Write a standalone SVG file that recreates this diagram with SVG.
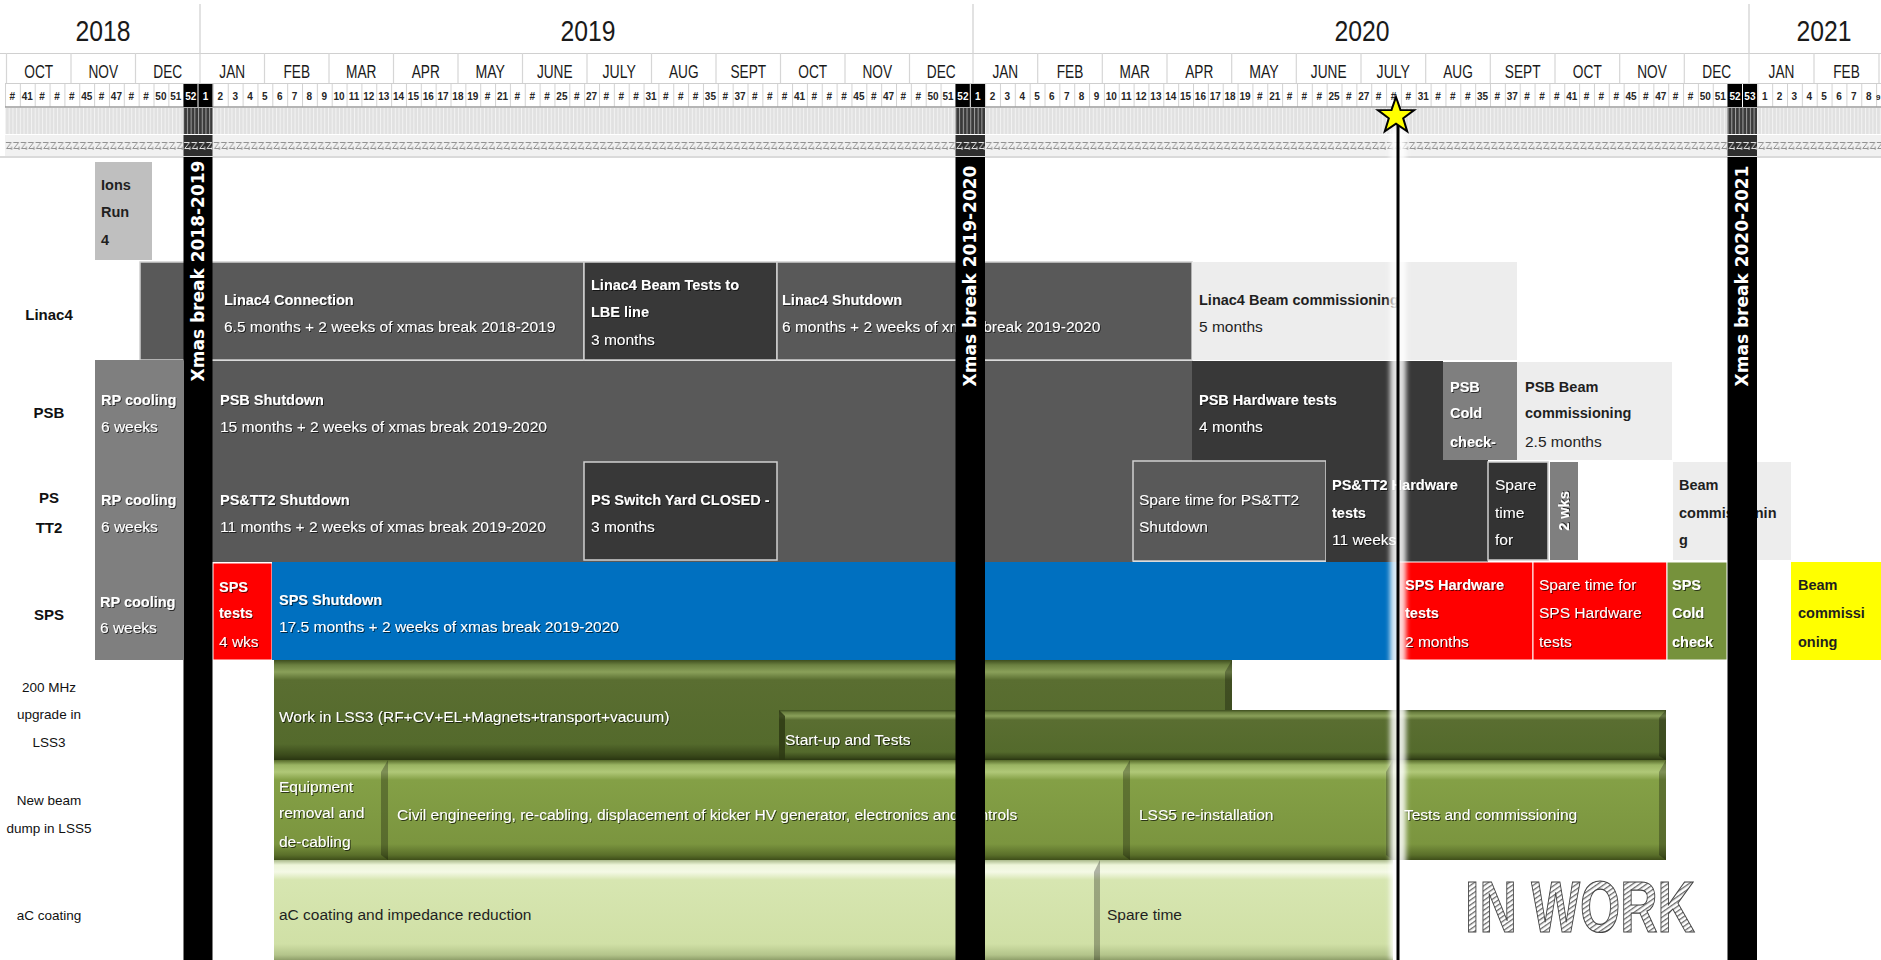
<svg xmlns="http://www.w3.org/2000/svg" width="1881" height="960" viewBox="0 0 1881 960">
<defs>
<style>
text{font-family:"Liberation Sans",Arial,sans-serif}
.yr{font-size:29px;fill:#1a1a1a;text-anchor:middle}
.mo{font-size:19px;fill:#1a1a1a;text-anchor:middle}
.wk{font-size:10px;font-weight:bold;fill:#262626;text-anchor:middle}
.wkw{font-size:10px;font-weight:bold;fill:#fff;text-anchor:middle}
.lb{font-size:15px;font-weight:bold;fill:#111;text-anchor:middle}
.lr{font-size:13.5px;fill:#111;text-anchor:middle}
.b{font-size:14.5px;font-weight:bold}
.r{font-size:15.5px}
.w{fill:#fff;filter:url(#sh)}
.k{fill:#1f1f1f}
.xm{font-family:"DejaVu Sans",sans-serif;font-size:17px;font-weight:bold;fill:#fff;text-anchor:middle;dominant-baseline:central}
.g1{fill:#595959}
.g2{fill:#383838}
.g3{fill:#7f7f7f}
.g4{fill:#ededed}
.bd{stroke:#d0d0d0;stroke-width:1.5}
.red{fill:#ff0000;stroke:#fff;stroke-width:1}
.edgeR{fill:#000;opacity:.28}
</style>
<filter id="sh" x="-5%" y="-30%" width="110%" height="160%"><feDropShadow dx="1" dy="1" stdDeviation="0.7" flood-color="#000" flood-opacity="0.65"/></filter>
<filter id="blur" x="-100%" y="-5%" width="300%" height="110%"><feGaussianBlur stdDeviation="2.5"/></filter>
<pattern id="wkgrid" x="5" y="0" width="14.85" height="24" patternUnits="userSpaceOnUse"><rect width="14.85" height="24" fill="#fff"/><rect x="0" y="0" width="1" height="24" fill="#d2d2d2"/></pattern>
<pattern id="stripes" x="5" y="0" width="3.7125" height="10" patternUnits="userSpaceOnUse"><rect width="3.7125" height="10" fill="#e1e1e1"/><rect width="1" height="10" fill="#f3f3f3"/></pattern>
<pattern id="stripesD" x="5" y="0" width="3.7125" height="10" patternUnits="userSpaceOnUse"><rect width="3.7125" height="10" fill="#3a3a3a"/><rect width="1" height="10" fill="#a0a0a0"/></pattern>
<pattern id="squig" x="5" y="135" width="7.425" height="22" patternUnits="userSpaceOnUse"><rect width="7.425" height="22" fill="#f1f1f1"/><path d="M0.8 7.5H6.2L1.6 13.5H6.6M6.6 11.5V15" stroke="#8a8a8a" stroke-width="0.9" fill="none"/></pattern>
<pattern id="squigD" x="5" y="135" width="7.425" height="22" patternUnits="userSpaceOnUse"><rect width="7.425" height="22" fill="#2e2e2e"/><path d="M0.8 7.5H6.2L1.6 13.5H6.6M6.6 11.5V15" stroke="#f0f0f0" stroke-width="0.9" fill="none"/></pattern>
<pattern id="hatch" width="4" height="4" patternUnits="userSpaceOnUse" patternTransform="rotate(55)"><rect width="4" height="4" fill="#fff"/><rect width="1.3" height="4" fill="#6a6a6a"/></pattern>
<linearGradient id="gDark" x1="0" y1="0" x2="0" y2="1">
<stop offset="0" stop-color="#3e4e1f"/><stop offset="0.05" stop-color="#6b8040"/><stop offset="0.12" stop-color="#8aa05a"/><stop offset="0.2" stop-color="#5a6e31"/><stop offset="0.84" stop-color="#546a2c"/><stop offset="0.95" stop-color="#3a4a1b"/><stop offset="1" stop-color="#2a3611"/>
</linearGradient>
<linearGradient id="gMid" x1="0" y1="0" x2="0" y2="1">
<stop offset="0" stop-color="#55692a"/><stop offset="0.05" stop-color="#9ab463"/><stop offset="0.12" stop-color="#b0c878"/><stop offset="0.2" stop-color="#84a046"/><stop offset="0.84" stop-color="#7b953f"/><stop offset="0.95" stop-color="#5a6f2a"/><stop offset="1" stop-color="#3e4e19"/>
</linearGradient>
<linearGradient id="gLight" x1="0" y1="0" x2="0" y2="1">
<stop offset="0" stop-color="#a9b98a"/><stop offset="0.05" stop-color="#eef6da"/><stop offset="0.12" stop-color="#f4f9e6"/><stop offset="0.2" stop-color="#d7e6b1"/><stop offset="0.84" stop-color="#d0e0a6"/><stop offset="0.95" stop-color="#b3c48a"/><stop offset="1" stop-color="#8f9f6a"/>
</linearGradient>
</defs>
<rect width="1881" height="960" fill="#fff"/>

<g id="header">
<g id="years">
<path d="M200 4V53M973 4V53M1749 4V53" stroke="#cfcfcf" stroke-width="1.2"/>
<text class="yr" x="103" y="41" textLength="55" lengthAdjust="spacingAndGlyphs">2018</text>
<text class="yr" x="588" y="41" textLength="55" lengthAdjust="spacingAndGlyphs">2019</text>
<text class="yr" x="1362" y="41" textLength="55" lengthAdjust="spacingAndGlyphs">2020</text>
<text class="yr" x="1824" y="41" textLength="55" lengthAdjust="spacingAndGlyphs">2021</text>
</g>
<g id="months">
<path d="M0 53.5H1881" stroke="#d0d0d0" stroke-width="1.2"/>
<path d="M6.5 53V83M71 53V83M135.5 53V83M200 53V83M264.5 53V83M329 53V83M393.5 53V83M458 53V83M522.5 53V83M587 53V83M651.5 53V83M716 53V83M780.5 53V83M845 53V83M909.5 53V83M973 53V83M1037.7 53V83M1102.3 53V83M1167 53V83M1231.7 53V83M1296.3 53V83M1361 53V83M1425.7 53V83M1490.3 53V83M1555 53V83M1619.7 53V83M1684.3 53V83M1749 53V83M1814 53V83M1879 53V83" stroke="#d6d6d6" stroke-width="1.2"/>
<text class="mo" x="38.75" y="78" textLength="28.9" lengthAdjust="spacingAndGlyphs">OCT</text>
<text class="mo" x="103.25" y="78" textLength="29.6" lengthAdjust="spacingAndGlyphs">NOV</text>
<text class="mo" x="167.75" y="78" textLength="28.9" lengthAdjust="spacingAndGlyphs">DEC</text>
<text class="mo" x="232.25" y="78" textLength="25.8" lengthAdjust="spacingAndGlyphs">JAN</text>
<text class="mo" x="296.75" y="78" textLength="26.6" lengthAdjust="spacingAndGlyphs">FEB</text>
<text class="mo" x="361.25" y="78" textLength="30.4" lengthAdjust="spacingAndGlyphs">MAR</text>
<text class="mo" x="425.75" y="78" textLength="28.1" lengthAdjust="spacingAndGlyphs">APR</text>
<text class="mo" x="490.25" y="78" textLength="29.6" lengthAdjust="spacingAndGlyphs">MAY</text>
<text class="mo" x="554.75" y="78" textLength="35.7" lengthAdjust="spacingAndGlyphs">JUNE</text>
<text class="mo" x="619.25" y="78" textLength="33.4" lengthAdjust="spacingAndGlyphs">JULY</text>
<text class="mo" x="683.75" y="78" textLength="29.6" lengthAdjust="spacingAndGlyphs">AUG</text>
<text class="mo" x="748.25" y="78" textLength="35.7" lengthAdjust="spacingAndGlyphs">SEPT</text>
<text class="mo" x="812.75" y="78" textLength="28.9" lengthAdjust="spacingAndGlyphs">OCT</text>
<text class="mo" x="877.25" y="78" textLength="29.6" lengthAdjust="spacingAndGlyphs">NOV</text>
<text class="mo" x="941.25" y="78" textLength="28.9" lengthAdjust="spacingAndGlyphs">DEC</text>
<text class="mo" x="1005.3" y="78" textLength="25.8" lengthAdjust="spacingAndGlyphs">JAN</text>
<text class="mo" x="1070" y="78" textLength="26.6" lengthAdjust="spacingAndGlyphs">FEB</text>
<text class="mo" x="1134.7" y="78" textLength="30.4" lengthAdjust="spacingAndGlyphs">MAR</text>
<text class="mo" x="1199.3" y="78" textLength="28.1" lengthAdjust="spacingAndGlyphs">APR</text>
<text class="mo" x="1264" y="78" textLength="29.6" lengthAdjust="spacingAndGlyphs">MAY</text>
<text class="mo" x="1328.7" y="78" textLength="35.7" lengthAdjust="spacingAndGlyphs">JUNE</text>
<text class="mo" x="1393.3" y="78" textLength="33.4" lengthAdjust="spacingAndGlyphs">JULY</text>
<text class="mo" x="1458" y="78" textLength="29.6" lengthAdjust="spacingAndGlyphs">AUG</text>
<text class="mo" x="1522.7" y="78" textLength="35.7" lengthAdjust="spacingAndGlyphs">SEPT</text>
<text class="mo" x="1587.3" y="78" textLength="28.9" lengthAdjust="spacingAndGlyphs">OCT</text>
<text class="mo" x="1652" y="78" textLength="29.6" lengthAdjust="spacingAndGlyphs">NOV</text>
<text class="mo" x="1716.7" y="78" textLength="28.9" lengthAdjust="spacingAndGlyphs">DEC</text>
<text class="mo" x="1781.5" y="78" textLength="25.8" lengthAdjust="spacingAndGlyphs">JAN</text>
<text class="mo" x="1846.5" y="78" textLength="26.6" lengthAdjust="spacingAndGlyphs">FEB</text>
</g>
<g id="weeks">
<rect x="5" y="83" width="1876" height="24" fill="url(#wkgrid)"/>
<path d="M5 83.5H1881" stroke="#cfcfcf" stroke-width="1"/>
<path d="M5 107H1881" stroke="#9c9c9c" stroke-width="1.5"/>
<rect x="5" y="108" width="1876" height="26" fill="url(#stripes)"/>
<rect x="5" y="134" width="1876" height="1.2" fill="#fff"/>
<rect x="5" y="135" width="1876" height="21" fill="url(#squig)"/>
<rect x="0" y="156" width="1881" height="2" fill="#dadada"/>
<text class="wk" y="100"><tspan x="12.4">#</tspan><tspan x="27.3">41</tspan><tspan x="42.1">#</tspan><tspan x="57">#</tspan><tspan x="71.8">#</tspan><tspan x="86.7">45</tspan><tspan x="101.5">#</tspan><tspan x="116.4">47</tspan><tspan x="131.2">#</tspan><tspan x="146.1">#</tspan><tspan x="160.9">50</tspan><tspan x="175.8">51</tspan><tspan x="220.3">2</tspan><tspan x="235.2">3</tspan><tspan x="250">4</tspan><tspan x="264.9">5</tspan><tspan x="279.7">6</tspan><tspan x="294.6">7</tspan><tspan x="309.4">8</tspan><tspan x="324.3">9</tspan><tspan x="339.1">10</tspan><tspan x="354">11</tspan><tspan x="368.8">12</tspan><tspan x="383.7">13</tspan><tspan x="398.5">14</tspan><tspan x="413.4">15</tspan><tspan x="428.2">16</tspan><tspan x="443.1">17</tspan><tspan x="457.9">18</tspan><tspan x="472.8">19</tspan><tspan x="487.6">#</tspan><tspan x="502.5">21</tspan><tspan x="517.3">#</tspan><tspan x="532.2">#</tspan><tspan x="547">#</tspan><tspan x="561.9">25</tspan><tspan x="576.7">#</tspan><tspan x="591.6">27</tspan><tspan x="606.4">#</tspan><tspan x="621.3">#</tspan><tspan x="636.1">#</tspan><tspan x="651">31</tspan><tspan x="665.8">#</tspan><tspan x="680.7">#</tspan><tspan x="695.5">#</tspan><tspan x="710.4">35</tspan><tspan x="725.2">#</tspan><tspan x="740.1">37</tspan><tspan x="754.9">#</tspan><tspan x="769.8">#</tspan><tspan x="784.6">#</tspan><tspan x="799.5">41</tspan><tspan x="814.3">#</tspan><tspan x="829.2">#</tspan><tspan x="844">#</tspan><tspan x="858.9">45</tspan><tspan x="873.7">#</tspan><tspan x="888.6">47</tspan><tspan x="903.4">#</tspan><tspan x="918.3">#</tspan><tspan x="933.1">50</tspan><tspan x="948">51</tspan><tspan x="992.5">2</tspan><tspan x="1007.4">3</tspan><tspan x="1022.2">4</tspan><tspan x="1037.1">5</tspan><tspan x="1051.9">6</tspan><tspan x="1066.8">7</tspan><tspan x="1081.6">8</tspan><tspan x="1096.5">9</tspan><tspan x="1111.3">10</tspan><tspan x="1126.2">11</tspan><tspan x="1141">12</tspan><tspan x="1155.9">13</tspan><tspan x="1170.7">14</tspan><tspan x="1185.6">15</tspan><tspan x="1200.4">16</tspan><tspan x="1215.3">17</tspan><tspan x="1230.1">18</tspan><tspan x="1245">19</tspan><tspan x="1259.8">#</tspan><tspan x="1274.7">21</tspan><tspan x="1289.5">#</tspan><tspan x="1304.4">#</tspan><tspan x="1319.2">#</tspan><tspan x="1334.1">25</tspan><tspan x="1348.9">#</tspan><tspan x="1363.8">27</tspan><tspan x="1378.6">#</tspan><tspan x="1393.5">#</tspan><tspan x="1408.3">#</tspan><tspan x="1423.2">31</tspan><tspan x="1438">#</tspan><tspan x="1452.9">#</tspan><tspan x="1467.7">#</tspan><tspan x="1482.6">35</tspan><tspan x="1497.4">#</tspan><tspan x="1512.3">37</tspan><tspan x="1527.1">#</tspan><tspan x="1542">#</tspan><tspan x="1556.8">#</tspan><tspan x="1571.7">41</tspan><tspan x="1586.5">#</tspan><tspan x="1601.4">#</tspan><tspan x="1616.2">#</tspan><tspan x="1631.1">45</tspan><tspan x="1645.9">#</tspan><tspan x="1660.8">47</tspan><tspan x="1675.6">#</tspan><tspan x="1690.5">#</tspan><tspan x="1705.3">50</tspan><tspan x="1720.2">51</tspan><tspan x="1764.7">1</tspan><tspan x="1779.6">2</tspan><tspan x="1794.4">3</tspan><tspan x="1809.3">4</tspan><tspan x="1824.1">5</tspan><tspan x="1839">6</tspan><tspan x="1853.8">7</tspan><tspan x="1868.7">8</tspan><tspan x="1878.2" font-size="8">9</tspan></text>
</g>
<g id="break-columns">
<rect x="183.5" y="84" width="29" height="23" fill="#000"/>
<rect x="955.5" y="84" width="29.5" height="23" fill="#000"/>
<rect x="1727.5" y="84" width="29.5" height="23" fill="#000"/>
<path d="M198 84V107M970.3 84V107M1742.5 84V107" stroke="#fff" stroke-width="1"/>
<text class="wkw" y="100"><tspan x="190.8">52</tspan><tspan x="205.6">1</tspan><tspan x="962.9">52</tspan><tspan x="977.7">1</tspan><tspan x="1735">52</tspan><tspan x="1749.9">53</tspan></text>
<rect x="183.5" y="108" width="29" height="26" fill="url(#stripesD)"/>
<rect x="955.5" y="108" width="29.5" height="26" fill="url(#stripesD)"/>
<rect x="1727.5" y="108" width="29.5" height="26" fill="url(#stripesD)"/>
<rect x="183.5" y="135" width="29" height="21" fill="url(#squigD)"/>
<rect x="955.5" y="135" width="29.5" height="21" fill="url(#squigD)"/>
<rect x="1727.5" y="135" width="29.5" height="21" fill="url(#squigD)"/>
</g>
</g>

<g id="row-labels">
<text class="lb" x="49" y="320">Linac4</text>
<text class="lb" x="49" y="418">PSB</text>
<text class="lb" x="49" y="503">PS</text>
<text class="lb" x="49" y="533">TT2</text>
<text class="lb" x="49" y="620">SPS</text>
<text class="lr" x="49" y="692">200 MHz</text>
<text class="lr" x="49" y="719">upgrade in</text>
<text class="lr" x="49" y="747">LSS3</text>
<text class="lr" x="49" y="805">New beam</text>
<text class="lr" x="49" y="833">dump in LSS5</text>
<text class="lr" x="49" y="920">aC coating</text>
</g>

<g id="ions-run">
<rect x="95" y="162" width="57" height="98" fill="#bfbfbf"/>
<text class="b k" x="101" y="190">Ions</text>
<text class="b k" x="101" y="217">Run</text>
<text class="b k" x="101" y="245">4</text>
</g>

<g id="linac4-connection">
<rect x="140" y="262" width="444" height="98" class="g1 bd"/>
<text class="b w" x="224" y="305">Linac4 Connection</text>
<text class="r w" x="224" y="332">6.5 months + 2 weeks of xmas break 2018-2019</text>
</g>
<g id="linac4-beam-tests">
<rect x="584" y="262" width="193" height="98" class="g2 bd"/>
<text class="b w" x="591" y="290">Linac4 Beam Tests to</text>
<text class="b w" x="591" y="317">LBE line</text>
<text class="r w" x="591" y="345">3 months</text>
</g>
<g id="linac4-shutdown">
<rect x="777" y="262" width="415" height="98" class="g1 bd"/>
<text class="b w" x="782" y="305">Linac4 Shutdown</text>
<text class="r w" x="782" y="332">6 months + 2 weeks of xmas break 2019-2020</text>
</g>
<g id="linac4-beam-commissioning">
<rect x="1192" y="262" width="325" height="98" class="g4"/>
<text class="b k" x="1199" y="305">Linac4 Beam commissioning</text>
<text class="r k" x="1199" y="332">5 months</text>
</g>

<g id="psb-rp-cooling">
<rect x="95" y="360" width="88" height="100" class="g3"/>
<text class="b w" x="101" y="405">RP cooling</text>
<text class="r w" x="101" y="432">6 weeks</text>
</g>
<g id="psb-shutdown">
<rect x="212" y="361" width="980" height="100" class="g1"/>
<text class="b w" x="220" y="405">PSB Shutdown</text>
<text class="r w" x="220" y="432">15 months + 2 weeks of xmas break 2019-2020</text>
</g>
<g id="psb-hardware-tests">
<rect x="1192" y="361" width="251" height="100" class="g2"/>
<text class="b w" x="1199" y="405">PSB Hardware tests</text>
<text class="r w" x="1199" y="432">4 months</text>
</g>
<g id="psb-cold-check">
<rect x="1443" y="362" width="74" height="98" class="g3"/>
<text class="b w" x="1450" y="392">PSB</text>
<text class="b w" x="1450" y="418">Cold</text>
<text class="b w" x="1450" y="447">check-</text>
</g>
<g id="psb-beam-commissioning">
<rect x="1517" y="362" width="155" height="98" class="g4"/>
<text class="b k" x="1525" y="392">PSB Beam</text>
<text class="b k" x="1525" y="418">commissioning</text>
<text class="r k" x="1525" y="447">2.5 months</text>
</g>

<g id="ps-rp-cooling">
<rect x="95" y="460" width="88" height="102" class="g3"/>
<text class="b w" x="101" y="505">RP cooling</text>
<text class="r w" x="101" y="532">6 weeks</text>
</g>
<g id="ps-tt2-shutdown">
<rect x="212" y="460" width="921" height="102" class="g1"/>
<text class="b w" x="220" y="505">PS&amp;TT2 Shutdown</text>
<text class="r w" x="220" y="532">11 months + 2 weeks of xmas break 2019-2020</text>
</g>
<g id="ps-switch-yard">
<rect x="584" y="462" width="193" height="98" class="g2 bd"/>
<text class="b w" x="591" y="505">PS Switch Yard CLOSED -</text>
<text class="r w" x="591" y="532">3 months</text>
</g>
<g id="ps-spare-time">
<rect x="1133" y="461" width="193" height="100" class="g1 bd"/>
<text class="r w" x="1139" y="505">Spare time for PS&amp;TT2</text>
<text class="r w" x="1139" y="532">Shutdown</text>
</g>
<g id="ps-tt2-hardware-tests">
<rect x="1326" y="460" width="162" height="102" class="g2"/>
<text class="b w" x="1332" y="490">PS&amp;TT2 Hardware</text>
<text class="b w" x="1332" y="518">tests</text>
<text class="r w" x="1332" y="545">11 weeks</text>
</g>
<g id="ps-spare-time-2">
<rect x="1488" y="462" width="60" height="98" fill="#333" class="bd"/>
<text class="r w" x="1495" y="490">Spare</text>
<text class="r w" x="1495" y="518">time</text>
<text class="r w" x="1495" y="545">for</text>
</g>
<g id="ps-2wks">
<rect x="1550" y="462" width="28" height="98" class="g3"/>
<text class="b w" text-anchor="middle" dominant-baseline="central" transform="translate(1564,511) rotate(-90)">2 wks</text>
</g>
<g id="ps-beam-commissioning">
<rect x="1673" y="462" width="118" height="98" class="g4"/>
<text class="b k" x="1679" y="490">Beam</text>
<text class="b k" x="1679" y="518">commissionin</text>
<text class="b k" x="1679" y="545">g</text>
</g>

<g id="sps-rp-cooling">
<rect x="95" y="562" width="88" height="98" class="g3"/>
<text class="b w" x="100" y="607">RP cooling</text>
<text class="r w" x="100" y="633">6 weeks</text>
</g>
<g id="sps-tests">
<rect x="213" y="563" width="59" height="97" class="red"/>
<text class="b w" x="219" y="592">SPS</text>
<text class="b w" x="219" y="618">tests</text>
<text class="r w" x="219" y="647">4 wks</text>
</g>
<g id="sps-shutdown">
<rect x="272" y="562" width="1126" height="98" fill="#0070c0"/>
<text class="b w" x="279" y="605">SPS Shutdown</text>
<text class="r w" x="279" y="632">17.5 months + 2 weeks of xmas break 2019-2020</text>
</g>
<g id="sps-hardware-tests">
<rect x="1399" y="562" width="134" height="98" class="red"/>
<text class="b w" x="1405" y="590">SPS Hardware</text>
<text class="b w" x="1405" y="618">tests</text>
<text class="r w" x="1405" y="647">2 months</text>
</g>
<g id="sps-spare-time">
<rect x="1533" y="562" width="134" height="98" class="red"/>
<text class="r w" x="1539" y="590">Spare time for</text>
<text class="r w" x="1539" y="618">SPS Hardware</text>
<text class="r w" x="1539" y="647">tests</text>
</g>
<g id="sps-cold-check">
<rect x="1667" y="562" width="60" height="98" fill="#76923c" stroke="#fff" stroke-width="1"/>
<text class="b w" x="1672" y="590">SPS</text>
<text class="b w" x="1672" y="618">Cold</text>
<text class="b w" x="1672" y="647">check</text>
</g>
<g id="sps-beam-commissioning">
<rect x="1791" y="562" width="90" height="98" fill="#ffff00"/>
<text class="b k" x="1798" y="590">Beam</text>
<text class="b k" x="1798" y="618">commissi</text>
<text class="b k" x="1798" y="647">oning</text>
</g>

<g id="lss3-work">
<rect x="274" y="660" width="958" height="100" fill="url(#gDark)"/>
<polygon class="edgeR" points="1232,660 1225,672 1225,755 1232,760"/>
<text class="r w" x="279" y="722">Work in LSS3 (RF+CV+EL+Magnets+transport+vacuum)</text>
</g>
<g id="lss3-startup">
<rect x="779" y="710" width="887" height="50" fill="url(#gDark)"/>
<polygon points="779,710 785,716 785,760 779,760" fill="#2a3611" opacity=".8"/>
<polygon class="edgeR" points="1666,710 1659,718 1659,756 1666,760"/>
<text class="r w" x="785" y="745">Start-up and Tests</text>
</g>
<g id="lss5-equipment">
<rect x="274" y="760" width="114" height="100" fill="url(#gMid)"/>
<polygon class="edgeR" points="388,760 381,772 381,855 388,860"/>
<text class="r w" x="279" y="792">Equipment</text>
<text class="r w" x="279" y="818">removal and</text>
<text class="r w" x="279" y="847">de-cabling</text>
</g>
<g id="lss5-civil">
<rect x="388" y="760" width="742" height="100" fill="url(#gMid)"/>
<polygon class="edgeR" points="1130,760 1123,772 1123,855 1130,860"/>
<text class="r w" x="397" y="820">Civil engineering, re-cabling, displacement of kicker HV generator, electronics and controls</text>
</g>
<g id="lss5-reinstallation">
<rect x="1130" y="760" width="263" height="100" fill="url(#gMid)"/>
<polygon class="edgeR" points="1393,760 1386,772 1386,855 1393,860"/>
<text class="r w" x="1139" y="820">LSS5 re-installation</text>
</g>
<g id="lss5-tests">
<rect x="1393" y="760" width="273" height="100" fill="url(#gMid)"/>
<polygon class="edgeR" points="1666,760 1659,772 1659,855 1666,860"/>
<text class="r w" x="1404" y="820">Tests and commissioning</text>
</g>
<g id="ac-coating">
<rect x="274" y="860" width="826" height="100" fill="url(#gLight)"/>
<polygon class="edgeR" points="1100,860 1094,872 1094,960 1100,960" opacity=".18"/>
<text class="r k" x="279" y="920">aC coating and impedance reduction</text>
</g>
<g id="ac-spare">
<rect x="1100" y="860" width="293" height="100" fill="url(#gLight)"/>
<text class="r k" x="1107" y="920">Spare time</text>
</g>

<g id="xmas-breaks">
<rect x="183.5" y="157" width="29" height="803" fill="#000"/>
<rect x="955.5" y="157" width="29.5" height="803" fill="#000"/>
<rect x="1727.5" y="157" width="29.5" height="803" fill="#000"/>
<text class="xm" transform="translate(198,271) rotate(-90)">Xmas break 2018-2019</text>
<text class="xm" transform="translate(970.3,276) rotate(-90)">Xmas break 2019-2020</text>
<text class="xm" transform="translate(1742.3,276) rotate(-90)">Xmas break 2020-2021</text>
</g>

<g id="in-work">
<text x="1465" y="932" font-size="72" font-weight="bold" fill="url(#hatch)" stroke="#444" stroke-width="1.2" textLength="230" lengthAdjust="spacingAndGlyphs">IN WORK</text>
</g>

<g id="connectors">
<g id="today-line">
<rect x="1390" y="128" width="16" height="832" fill="#fff" opacity="0.85" filter="url(#blur)"/>
<line x1="1398" y1="122" x2="1398" y2="960" stroke="#000" stroke-width="3"/>
</g>
</g>
<g id="today-star">
<polygon points="1396,97 1400.5,109.9 1414.1,110.1 1403.2,118.3 1407.2,131.4 1396,123.6 1384.8,131.4 1388.8,118.3 1377.9,110.1 1391.5,109.9" fill="#ffff00" stroke="#000" stroke-width="2" stroke-linejoin="miter"/>
</g>
</svg>
